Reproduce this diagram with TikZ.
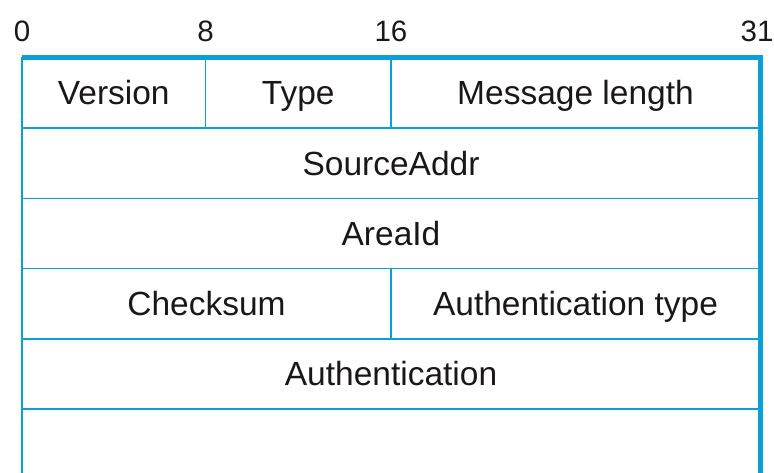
\documentclass[tikz,border=0pt]{standalone}
\usepackage{fontspec}
\setmainfont{Liberation Sans}
\usetikzlibrary{positioning}
\definecolor{pktblue}{HTML}{0A9FD5}
\definecolor{pkttext}{HTML}{1A1718}
\tikzset{
  field/.style={draw=pktblue,line width=1.5pt,outer sep=0pt,inner sep=0pt,
                minimum height=70.2pt,text=pkttext,text height=23.6pt,text depth=0pt,
                font=\fontsize{33.5}{36}\selectfont},
  bitlabel/.style={text=pkttext,font=\fontsize{29.5}{32}\selectfont,inner sep=0pt,anchor=base},
  frameline/.style={draw=pktblue,line width=5pt},
}

\begin{document}
\begin{tikzpicture}[x=1pt,y=1pt]
  \useasboundingbox (0,0) rectangle (774,-473);
  \node[field,minimum width=183.5pt,anchor=north west] (ver) at (22,-58) {Version};
  \node[field,minimum width=185.5pt,right=0pt of ver] (type) {Type};
  \node[field,minimum width=369pt,right=0pt of type] (mlen) {Message length};
  \node[field,minimum width=738pt,below right=0pt and 0pt of ver.south west] (src) {SourceAddr};
  \node[field,minimum width=738pt,below right=0pt and 0pt of src.south west] (area) {AreaId};
  \node[field,minimum width=369pt,below right=0pt and 0pt of area.south west] (csum) {Checksum};
  \node[field,minimum width=369pt,right=0pt of csum] (atype) {Authentication type};
  \node[field,minimum width=738pt,below right=0pt and 0pt of csum.south west] (auth) {Authentication};
  \node[field,minimum width=738pt,below right=0pt and 0pt of auth.south west] (more) {};
  % thick top and right edge
  \draw[frameline] (ver.north west) -- (mlen.north east) -- (more.south east);
  % bit numbers
  \coordinate (nums) at (0,-42);
  \node[bitlabel] (b0) at (ver.west |- nums) {0};
  \node[bitlabel] (b8) at (ver.east |- nums) {8};
  \node[bitlabel] (b16) at (type.east |- nums) {16};
  \node[bitlabel,xshift=-3pt] (b31) at (mlen.east |- nums) {31};
\end{tikzpicture}
\end{document}
